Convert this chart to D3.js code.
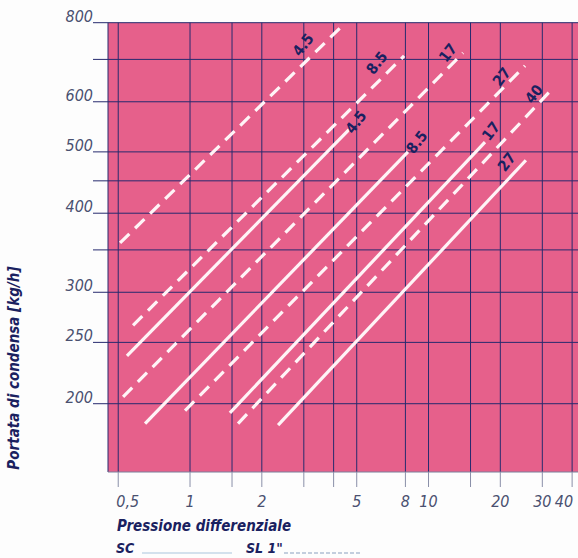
<!DOCTYPE html>
<html>
<head>
<meta charset="utf-8">
<script src="https://cdn.jsdelivr.net/npm/d3@7"></script>
<style>
  html, body { margin: 0; padding: 0; background: #fdfdfd; overflow: hidden; }
  svg { display: block; }
</style>
</head>
<body>
<svg id="svg0"></svg>
<script>
// grid + ticks
let xGrid = [0.5, 1, 1.5, 2, 3, 4, 5, 8, 10, 15, 20, 30, 40];
let xTickValues = [0.5, 1, 2, 5, 8, 10, 20, 30, 40];
let xTickLabels = ["0,5", "1", "2", "5", "8", "10", "20", "30", "40"];
let yGrid = [200, 250, 300, 350, 400, 450, 500, 600, 700, 800];
let yTickValues = [200, 250, 300, 400, 500, 600, 800];

// SL 1" (dashed) lines: [pressione, portata]
let slNames = ["4.5", "8.5", "17", "27", "40"];
let slStart = [[0.509, 359], [0.577, 266], [0.524, 205], [0.953, 195], [1.59, 186]];
let slEnd = [[4.38, 793], [7.9, 709], [13.96, 717], [25.4, 684], [32.9, 628]];
let slLabelAt = [[2.98, 738], [6.08, 691], [12.07, 717], [20.3, 657], [27.7, 617]];

// SC (solid) lines
let scNames = ["4.5", "8.5", "17", "27"];
let scStart = [[0.544, 238], [0.648, 186], [1.47, 193.4], [2.34, 185]];
let scEnd = [[4.64, 542], [8.2, 500], [17.25, 518], [25.6, 485]];
let scLabelAt = [[4.97, 557], [8.95, 518], [18.28, 539], [21.3, 482]];

let width = 578, height = 558;
let plot = {left: 108, top: 22.7, bottom: 472};

let svg = d3.select('#svg0').attr('width', width).attr('height', height);

let xScale = d3.scaleLog().domain([0.453, 48]).range([plot.left, plot.left + 238.5 * Math.log10(48 / 0.453)]);
let yScale = d3.scaleLog().domain([156, 800]).range([plot.bottom, plot.top]);

let navy = '#1a2160';
let grey = '#4a5070';
let condensed = '"Liberation Sans Narrow", "DejaVu Sans Condensed", "Liberation Sans", sans-serif';

// pink background
svg.append('rect')
    .attr('x', plot.left).attr('y', plot.top)
    .attr('width', width - plot.left + 20).attr('height', plot.bottom - plot.top)
    .style('fill', '#e6608b');

// vertical gridlines
svg.append('g').selectAll('line').data(xGrid).enter().append('line')
    .attr('x1', d=>xScale(d)).attr('x2', d=>xScale(d))
    .attr('y1', plot.top).attr('y2', plot.bottom)
    .style('stroke', '#262a6e').style('stroke-width', 1);

// left border
svg.append('line').attr('x1', plot.left).attr('x2', plot.left)
    .attr('y1', plot.top).attr('y2', plot.bottom)
    .style('stroke', '#262a6e').style('stroke-width', 1);

// bottom border
svg.append('line').attr('x1', plot.left).attr('x2', width)
    .attr('y1', plot.bottom).attr('y2', plot.bottom)
    .style('stroke', '#7a7f9a').style('stroke-width', 1);

// horizontal gridlines, running out to the labels
svg.append('g').selectAll('line').data(yGrid).enter().append('line')
    .attr('x1', 93).attr('x2', width)
    .attr('y1', d=>yScale(d)).attr('y2', d=>yScale(d))
    .style('stroke', '#262a6e').style('stroke-width', 1);

// y tick labels
svg.append('g').selectAll('text').data(yTickValues).enter().append('text')
    .attr('x', 93).attr('y', d=>yScale(d) - 1)
    .text(d=>d)
    .style('text-anchor', 'end')
    .style('font-family', condensed).style('font-style', 'italic')
    .style('font-size', '16px').style('fill', grey);

// x ticks below the plot
svg.append('g').selectAll('line').data(xGrid).enter().append('line')
    .attr('x1', d=>xScale(d)).attr('x2', d=>xScale(d))
    .attr('y1', plot.bottom).attr('y2', plot.bottom + 15)
    .style('stroke', '#8a8fa8').style('stroke-width', 1);

svg.append('g').selectAll('text').data(xTickValues).enter().append('text')
    .attr('x', (d, i)=>{
        if (i === 0) return xScale(d) - 2;
        if (i === xTickValues.length - 1) return xScale(d) + 1;
        return xScale(d);
    })
    .attr('y', 507)
    .text((d, i)=>xTickLabels[i])
    .style('text-anchor', (d, i)=>i === 0 ? 'start' : (i === xTickValues.length - 1 ? 'end' : 'middle'))
    .style('font-family', condensed).style('font-style', 'italic')
    .style('font-size', '16px').style('fill', grey);

// the white lines
let line = d3.line().x(d=>xScale(d[0])).y(d=>yScale(d[1]));

let sl = slNames.map((n, i)=>({name: n, pts: [slStart[i], slEnd[i]], lab: slLabelAt[i]}));
let sc = scNames.map((n, i)=>({name: n, pts: [scStart[i], scEnd[i]], lab: scLabelAt[i]}));

svg.append('g').selectAll('path').data(sl).enter().append('path')
    .attr('d', d=>line(d.pts))
    .style('fill', 'none').style('stroke', '#fff4f7')
    .style('stroke-width', 3.2).style('stroke-dasharray', '13,8');

svg.append('g').selectAll('path').data(sc).enter().append('path')
    .attr('d', d=>line(d.pts))
    .style('fill', 'none').style('stroke', '#fff4f7')
    .style('stroke-width', 3.2);

// line labels
svg.append('g').selectAll('text').data(sl.concat(sc)).enter().append('text')
    .attr('transform', d=>'translate(' + xScale(d.lab[0]) + ',' + yScale(d.lab[1]) + ') rotate(-52)')
    .text(d=>d.name)
    .style('text-anchor', 'middle').style('dominant-baseline', 'central')
    .style('font-family', condensed).style('font-weight', '600')
    .style('font-size', '15px').style('fill', navy);

// axis titles
svg.append('text')
    .attr('x', 117).attr('y', 531)
    .text('Pressione differenziale')
    .style('font-family', condensed).style('font-weight', 'bold').style('font-style', 'italic')
    .style('font-size', '15px').style('fill', navy);

svg.append('text')
    .attr('transform', 'translate(19, 368) rotate(-90)')
    .text('Portata di condensa [kg/h]')
    .style('text-anchor', 'middle')
    .style('font-family', condensed).style('font-weight', 'bold').style('font-style', 'italic')
    .style('font-size', '15px').style('fill', navy);

// legend
let legend = svg.append('g');
legend.append('text').attr('x', 116).attr('y', 553).text('SC')
    .style('font-family', condensed).style('font-weight', 'bold').style('font-style', 'italic')
    .style('font-size', '14px').style('fill', navy);
legend.append('line').attr('x1', 142).attr('x2', 232).attr('y1', 553).attr('y2', 553)
    .style('stroke', '#a9c6de').style('stroke-width', 1.2);
legend.append('text').attr('x', 246).attr('y', 553).text('SL 1"')
    .style('font-family', condensed).style('font-weight', 'bold').style('font-style', 'italic')
    .style('font-size', '14px').style('fill', navy);
legend.append('line').attr('x1', 284).attr('x2', 362).attr('y1', 553).attr('y2', 553)
    .style('stroke', '#8aa0c0').style('stroke-width', 1.2).style('stroke-dasharray', '4,2');
</script>
</body>
</html>
